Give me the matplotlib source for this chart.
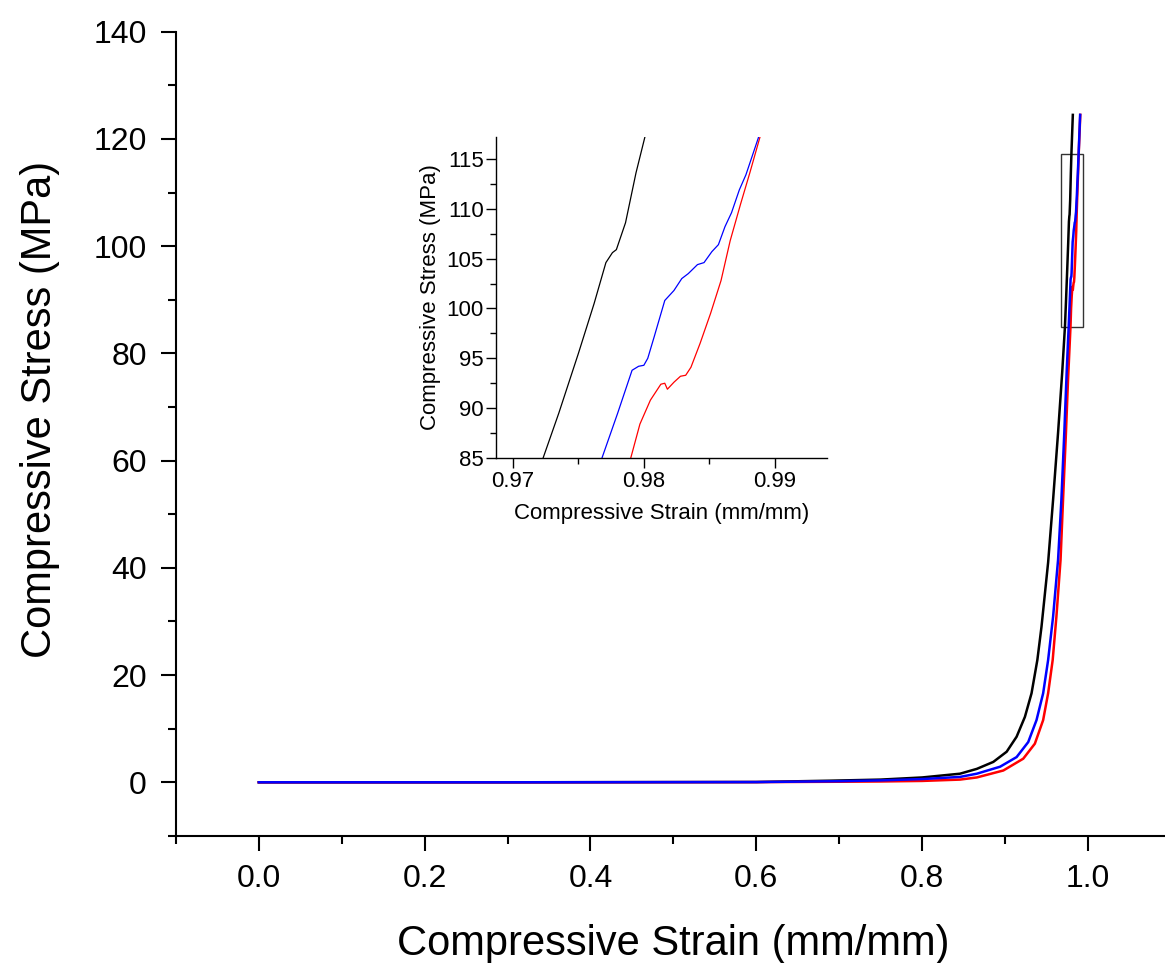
import matplotlib
matplotlib.use("Agg")
import matplotlib.pyplot as plt
from matplotlib.ticker import MultipleLocator
from matplotlib.patches import Rectangle

plt.rcParams['font.family'] = ['Liberation Sans', 'DejaVu Sans']

# Sample data (strain mm/mm, stress MPa)
black_strain = [0.0, 0.30, 0.60, 0.69, 0.75, 0.80, 0.8457, 0.866, 0.8859, 0.902, 0.914, 0.924,
                0.932, 0.939, 0.944, 0.949, 0.952, 0.958, 0.964, 0.9690, 0.9723, 0.9735,
                0.9750, 0.9762, 0.9771, 0.9776, 0.9779, 0.9786, 0.9794, 0.9801, 0.9818]
black_stress = [0.0, 0.0, 0.05, 0.3, 0.5, 0.9, 1.6, 2.5, 3.8, 5.7, 8.5, 12.2,
                16.6, 22.8, 29.0, 36.5, 41.0, 52.7, 65.2, 76.5, 85.0, 89.5,
                95.5, 100.5, 104.6, 105.6, 105.9, 108.6, 113.6, 117.3, 124.5]

blue_strain = [0.0, 0.30, 0.60, 0.70, 0.75, 0.80, 0.8457, 0.866, 0.894, 0.914, 0.928, 0.938,
               0.946, 0.952, 0.958, 0.964, 0.968, 0.9715, 0.9745, 0.9768, 0.9780, 0.9791,
               0.9796, 0.9800, 0.9803, 0.9808, 0.9816, 0.9823, 0.9829, 0.9834, 0.9841,
               0.9846, 0.9852, 0.9857, 0.9862, 0.9867, 0.9873, 0.9878, 0.9888, 0.9906]
blue_stress = [0.0, 0.0, 0.04, 0.2, 0.35, 0.6, 1.0, 1.6, 2.9, 4.7, 7.5, 11.6,
               16.6, 22.8, 30.9, 41.5, 52.7, 65.2, 77.0, 85.0, 89.5, 93.8,
               94.2, 94.3, 95.0, 97.2, 100.8, 101.8, 103.0, 103.5, 104.4,
               104.6, 105.7, 106.4, 108.2, 109.6, 111.9, 113.4, 117.3, 124.5]

red_strain = [0.0, 0.30, 0.60, 0.70, 0.75, 0.80, 0.8457, 0.866, 0.898, 0.922, 0.936, 0.946,
              0.952, 0.9575, 0.962, 0.967, 0.970, 0.9735, 0.976, 0.9790, 0.9797, 0.9805,
              0.9813, 0.9816, 0.9818, 0.9823, 0.9828, 0.9832, 0.9836, 0.9843, 0.9851,
              0.9859, 0.9866, 0.9874, 0.9881, 0.9889, 0.9908]
red_stress = [0.0, 0.0, 0.03, 0.1, 0.15, 0.25, 0.5, 0.9, 2.2, 4.4, 7.2, 11.6,
              16.6, 22.8, 30.9, 41.5, 52.7, 65.2, 75.0, 85.0, 88.4, 90.8,
              92.4, 92.5, 91.9, 92.6, 93.2, 93.3, 94.1, 96.5, 99.5,
              102.8, 106.8, 110.5, 113.6, 117.3, 124.5]

series = [(black_strain, black_stress, 'black'),
          (red_strain, red_stress, 'red'),
          (blue_strain, blue_stress, 'blue')]

fig = plt.figure(figsize=(11.65, 9.63), dpi=100)
ax = fig.add_axes([0.151, 0.132, 0.854, 0.835])

for s, t, c in series:
    ax.plot(s, t, color=c, lw=1.8, solid_joinstyle='round')

ax.set_xlim(-0.1, 1.1)
ax.set_ylim(-10, 140)
ax.set_xticks([0.0, 0.2, 0.4, 0.6, 0.8, 1.0])
ax.set_xticklabels(['0.0', '0.2', '0.4', '0.6', '0.8', '1.0'])
ax.xaxis.set_minor_locator(MultipleLocator(0.1))
ax.set_yticks([0, 20, 40, 60, 80, 100, 120, 140])
ax.yaxis.set_minor_locator(MultipleLocator(10))
for sp in ['top', 'right']:
    ax.spines[sp].set_visible(False)
for sp in ['left', 'bottom']:
    ax.spines[sp].set_linewidth(1.5)
ax.tick_params(which='major', direction='out', length=11, width=1.5, labelsize=23)
ax.tick_params(which='minor', direction='out', length=5.5, width=1.5)
ax.tick_params(axis='x', which='major', pad=9)
ax.tick_params(axis='y', which='major', pad=10)
ax.set_xlabel('Compressive Strain (mm/mm)', fontsize=30, labelpad=22)
ax.set_ylabel('Compressive Stress (MPa)', fontsize=30, labelpad=24)
ax.yaxis.label.set_y(0.53)

# zoom box
ax.add_patch(Rectangle((0.9680, 85.0), 0.0265, 32.2, fill=False, edgecolor='#333333', lw=1.0))

# inset
ins = fig.add_axes([496/1165, 1 - 458/963, (827 - 496)/1165, (458 - 137)/963])
for s, t, c in series:
    ins.plot(s, t, color=c, lw=0.9)
ins.set_xlim(0.9687, 0.9940)
ins.set_ylim(85, 117.2)
ins.set_xticks([0.97, 0.98, 0.99])
ins.set_xticklabels(['0.97', '0.98', '0.99'])
ins.xaxis.set_minor_locator(MultipleLocator(0.005))
ins.set_yticks([85, 90, 95, 100, 105, 110, 115])
ins.yaxis.set_minor_locator(MultipleLocator(2.5))
for sp in ['top', 'right']:
    ins.spines[sp].set_visible(False)
for sp in ['left', 'bottom']:
    ins.spines[sp].set_linewidth(1.0)
ins.tick_params(which='major', direction='out', length=7, width=1.0, labelsize=16, pad=2)
ins.tick_params(which='minor', direction='out', length=4, width=1.0)
ins.set_xlabel('Compressive Strain (mm/mm)', fontsize=16, labelpad=8)
ins.set_ylabel('Compressive Stress (MPa)', fontsize=16, labelpad=4)

fig.savefig('out.png', dpi=100)
